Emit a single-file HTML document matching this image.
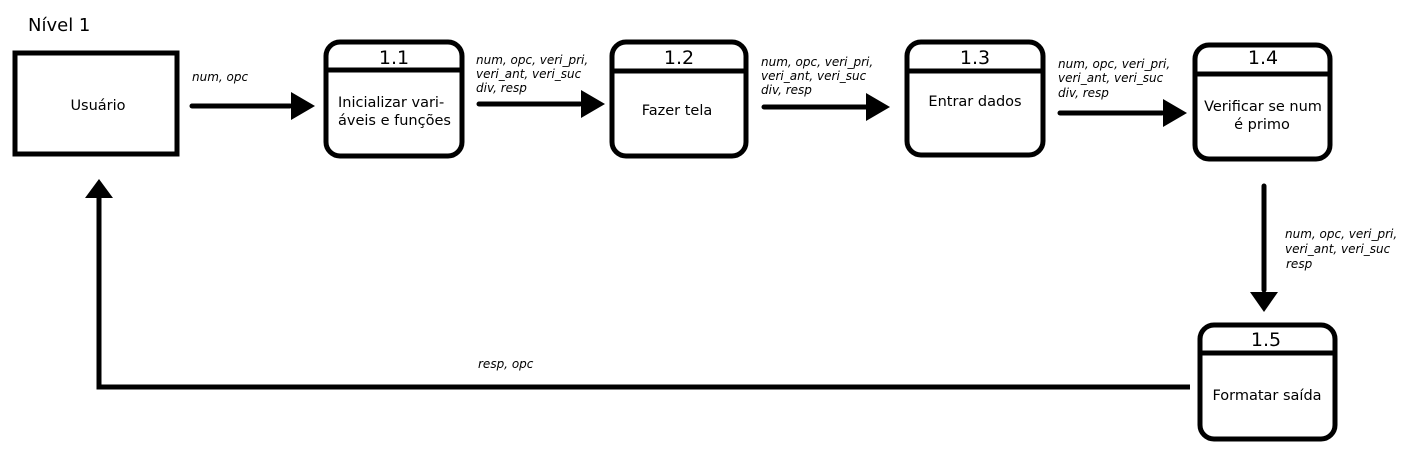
<!DOCTYPE html>
<html><head><meta charset="utf-8"><style>
html,body{margin:0;padding:0;background:#fff;}
svg{display:block;}
.l{font-family:"DejaVu Sans","Liberation Sans",sans-serif;font-style:italic;font-size:12px;fill:#000;}
.t{font-family:"DejaVu Sans","Liberation Sans",sans-serif;font-size:14.5px;fill:#000;}
.n{font-family:"DejaVu Sans","Liberation Sans",sans-serif;font-size:19px;fill:#000;}
</style></head><body>
<svg width="1419" height="470" viewBox="0 0 1419 470" xmlns="http://www.w3.org/2000/svg">
<text x="28" y="31" class="t" style="font-size:18px">Nível 1</text>
<rect x="15" y="53" width="162" height="101" fill="none" stroke="#000" stroke-width="5"/>
<text x="98" y="110" class="t" text-anchor="middle">Usuário</text>

<g fill="none" stroke="#000" stroke-width="5">
<rect x="326" y="42" width="136" height="114" rx="14"/>
<line x1="326" y1="70" x2="462" y2="70"/>
<rect x="612" y="42" width="134" height="114" rx="14"/>
<line x1="612" y1="71" x2="746" y2="71"/>
<rect x="907" y="42" width="136" height="113" rx="14"/>
<line x1="907" y1="71" x2="1043" y2="71"/>
<rect x="1195" y="45" width="135" height="114" rx="14"/>
<line x1="1195" y1="74" x2="1330" y2="74"/>
<rect x="1200" y="325" width="135" height="114" rx="14"/>
<line x1="1200" y1="353" x2="1335" y2="353"/>
<g stroke-linecap="round">
<line x1="192" y1="106" x2="290" y2="106"/>
<line x1="479" y1="104" x2="580" y2="104"/>
<line x1="764" y1="107" x2="866" y2="107"/>
<line x1="1060" y1="113" x2="1162" y2="113"/>
<line x1="1264" y1="186" x2="1264" y2="290"/>
</g>
<polyline points="1190,387 99,387 99,196" stroke-linejoin="miter"/>
</g>
<g fill="#000">
<polygon points="291,92 315,106 291,120"/>
<polygon points="581,90 605,104 581,118"/>
<polygon points="866,93 890,107 866,121"/>
<polygon points="1163,99 1187,113 1163,127"/>
<polygon points="1250,292 1278,292 1264,312"/>
<polygon points="85,198 113,198 99,179"/>
</g>

<text x="394" y="64" class="n" text-anchor="middle">1.1</text>
<text x="679" y="64" class="n" text-anchor="middle">1.2</text>
<text x="975" y="64" class="n" text-anchor="middle">1.3</text>
<text x="1263" y="64" class="n" text-anchor="middle">1.4</text>
<text x="1266" y="346" class="n" text-anchor="middle">1.5</text>

<text x="338" y="107" class="t">Inicializar vari-</text>
<text x="338" y="125" class="t">áveis e funções</text>
<text x="677" y="115" class="t" text-anchor="middle">Fazer tela</text>
<text x="975" y="106" class="t" text-anchor="middle">Entrar dados</text>
<text x="1263" y="111" class="t" text-anchor="middle">Verificar se num</text>
<text x="1262" y="129" class="t" text-anchor="middle">é primo</text>
<text x="1267" y="400" class="t" text-anchor="middle">Formatar saída</text>

<text x="192" y="81" class="l">num, opc</text>
<text x="476" y="64" class="l">num, opc, veri_pri,</text>
<text x="476" y="78" class="l">veri_ant, veri_suc</text>
<text x="476" y="92" class="l">div, resp</text>
<text x="761" y="66" class="l">num, opc, veri_pri,</text>
<text x="761" y="80" class="l">veri_ant, veri_suc</text>
<text x="761" y="94" class="l">div, resp</text>
<text x="1058" y="68" class="l">num, opc, veri_pri,</text>
<text x="1058" y="82" class="l">veri_ant, veri_suc</text>
<text x="1058" y="97" class="l">div, resp</text>
<text x="1285" y="238" class="l">num, opc, veri_pri,</text>
<text x="1285" y="253" class="l">veri_ant, veri_suc</text>
<text x="1286" y="268" class="l">resp</text>
<text x="478" y="368" class="l">resp, opc</text>
</svg>
</body></html>
